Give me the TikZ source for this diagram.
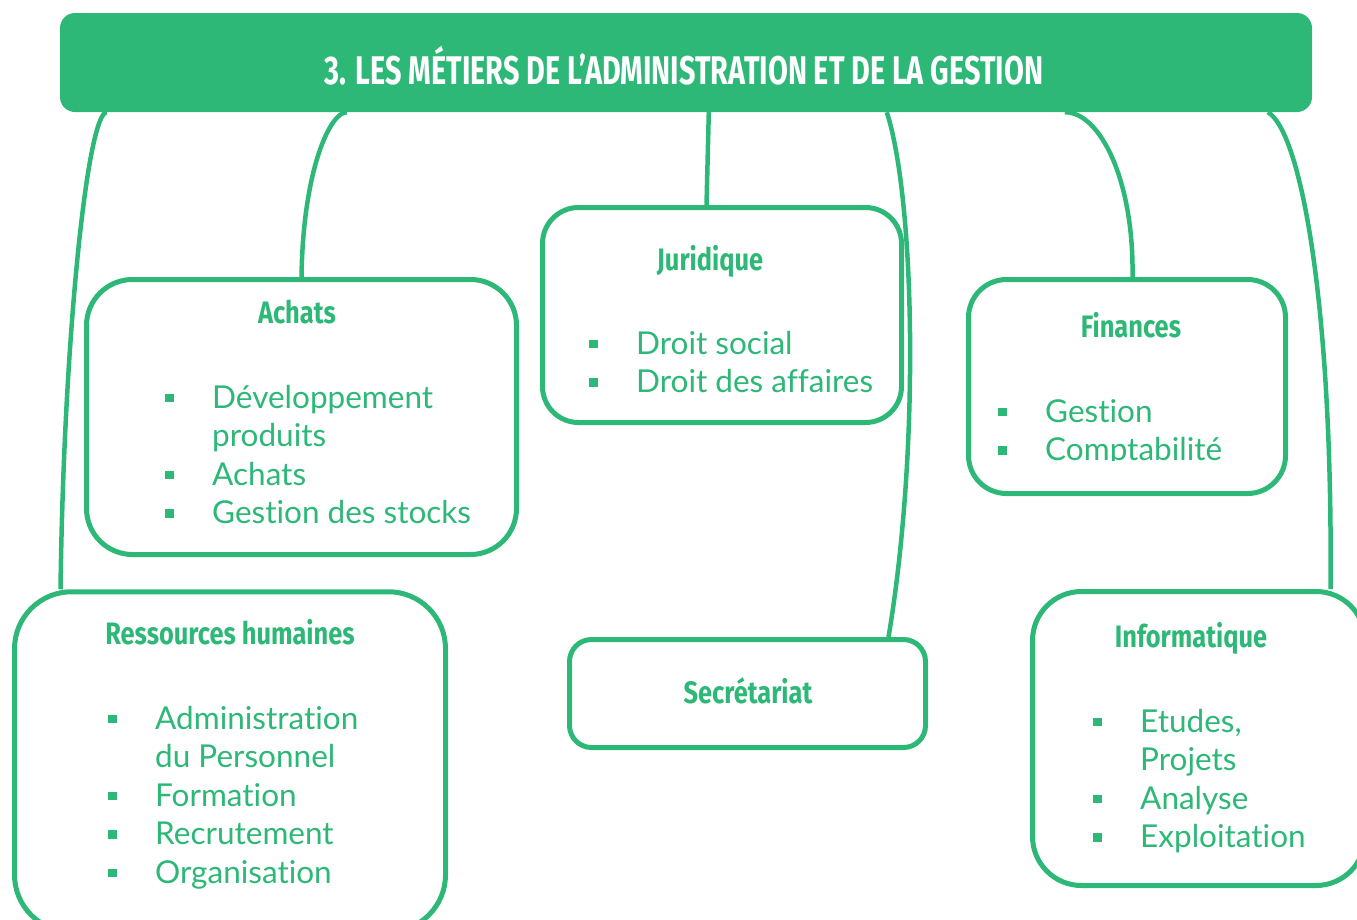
\documentclass[tikz,border=0pt]{standalone}
\usepackage{fontspec}
\setmainfont{Lato}[Ligatures=NoCommon]
\newfontfamily\titrefont[FakeStretch=0.82]{Fira Sans}
\newfontfamily\bandeaufont[FakeStretch=0.72]{Fira Sans}
\usetikzlibrary{positioning}
\usetikzlibrary{calc}
\definecolor{vert}{RGB}{46,184,120}
\newcommand{\puce}{\makebox[47pt][l]{\rule[6pt]{8.5pt}{8.5pt}}}
\newcommand{\itm}[1]{\puce\strut #1}
\newcommand{\suite}[1]{\hspace*{47pt}\strut #1}

\begin{document}
\begin{tikzpicture}[x=1pt, y=-1pt,
  boite/.style={rectangle, draw=vert, line width=5pt, fill=white, inner sep=0pt, rounded corners=#1},
  titre/.style={anchor=base, text=vert, inner sep=0pt, font=\titrefont\bfseries\fontsize{31}{36}\selectfont},
  liste/.style={anchor=north west, align=left, text=vert, inner sep=0pt, font=\fontsize{31.5}{38.5}\selectfont},
  lien/.style={draw=vert, line width=4.5pt}]

  \useasboundingbox (0,0) rectangle (1357,919);
  \clip (0,0) rectangle (1357,919);

  % bandeau du haut
  \node[rectangle, fill=vert, rounded corners=15pt, minimum width=1252pt, minimum height=99pt, inner sep=0pt] (entete) at (686,62.5) {};
  \node[anchor=base, text=white, inner sep=0pt, font=\bandeaufont\bfseries\fontsize{40}{48}\selectfont] (entete-t) at (684,84) {3. LES MÉTIERS DE L’ADMINISTRATION ET DE LA GESTION};

  % les cadres
  \node[boite=46pt, minimum width=430pt, minimum height=275pt] (achats) at (301.5,417) {};
  \node[boite=36pt, minimum width=359pt, minimum height=215pt] (juridique) at (722,315) {};
  \node[boite=38pt, minimum width=317pt, minimum height=214pt] (finances) at (1127,386.5) {};
  \node[boite=57pt, minimum width=431pt, minimum height=340pt] (rh) at (230,761.75) {};
  \node[boite=22pt, minimum width=356pt, minimum height=108pt] (secretariat) at (747.5,693.5) {};
  \node[boite=49pt, minimum width=332.5pt, minimum height=294pt] (info) at (1198.75,738.5) {};

  % liens
  \draw[lien] ([xshift=47pt]entete.south west) .. controls (88,112) and (64,330) .. ([xshift=48.5pt]rh.north west);
  \draw[lien] ([xshift=287pt]entete.south west) .. controls (330,112) and (303,170) .. (achats.north);
  \draw[lien] ([xshift=649pt]entete.south west) -- ([xshift=166.5pt]juridique.north west);
  \draw[lien] ([xshift=827pt]entete.south west) .. controls (915,200) and (920,450) .. ([xshift=321.5pt]secretariat.north west);
  \draw[lien] ([xshift=1005pt]entete.south west) .. controls (1100,112) and (1134,180) .. ([xshift=166.5pt]finances.north west);
  \draw[lien] ([xshift=1208pt]entete.south west) .. controls (1300,130) and (1333,300) .. ([xshift=300.5pt]info.north west);

  % titres
  \node[titre] (achats-t) at (297,323) {Achats};
  \node[titre] (juridique-t) at (710,270) {Juridique};
  \node[titre] (finances-t) at (1131,337) {Finances};
  \node[titre] (rh-t) at (230,644) {Ressources humaines};
  \node[titre] (secretariat-t) at (748,703) {Secrétariat};
  \node[titre] (info-t) at (1191,647) {Informatique};

  % listes
  \node[liste] (achats-l) at (165,381) {\itm{Développement}\\ \suite{produits}\\ \itm{Achats}\\ \itm{Gestion des stocks}};
  \node[liste] (juridique-l) at (589,327) {\itm{Droit social}\\ \itm{Droit des affaires}};
  \begin{scope}
    \clip (960,380) rectangle (1290,460);
    \node[liste] (finances-l) at (998,395) {\itm{Gestion}\\ \itm{Comptabilité}};
  \end{scope}
  \node[liste] (rh-l) at (108,702) {\itm{Administration}\\ \suite{du Personnel}\\ \itm{Formation}\\ \itm{Recrutement}\\ \itm{Organisation}};
  \node[liste] (info-l) at (1093,705) {\itm{Etudes,}\\ \suite{Projets}\\ \itm{Analyse}\\ \itm{Exploitation}};
\end{tikzpicture}
\end{document}
